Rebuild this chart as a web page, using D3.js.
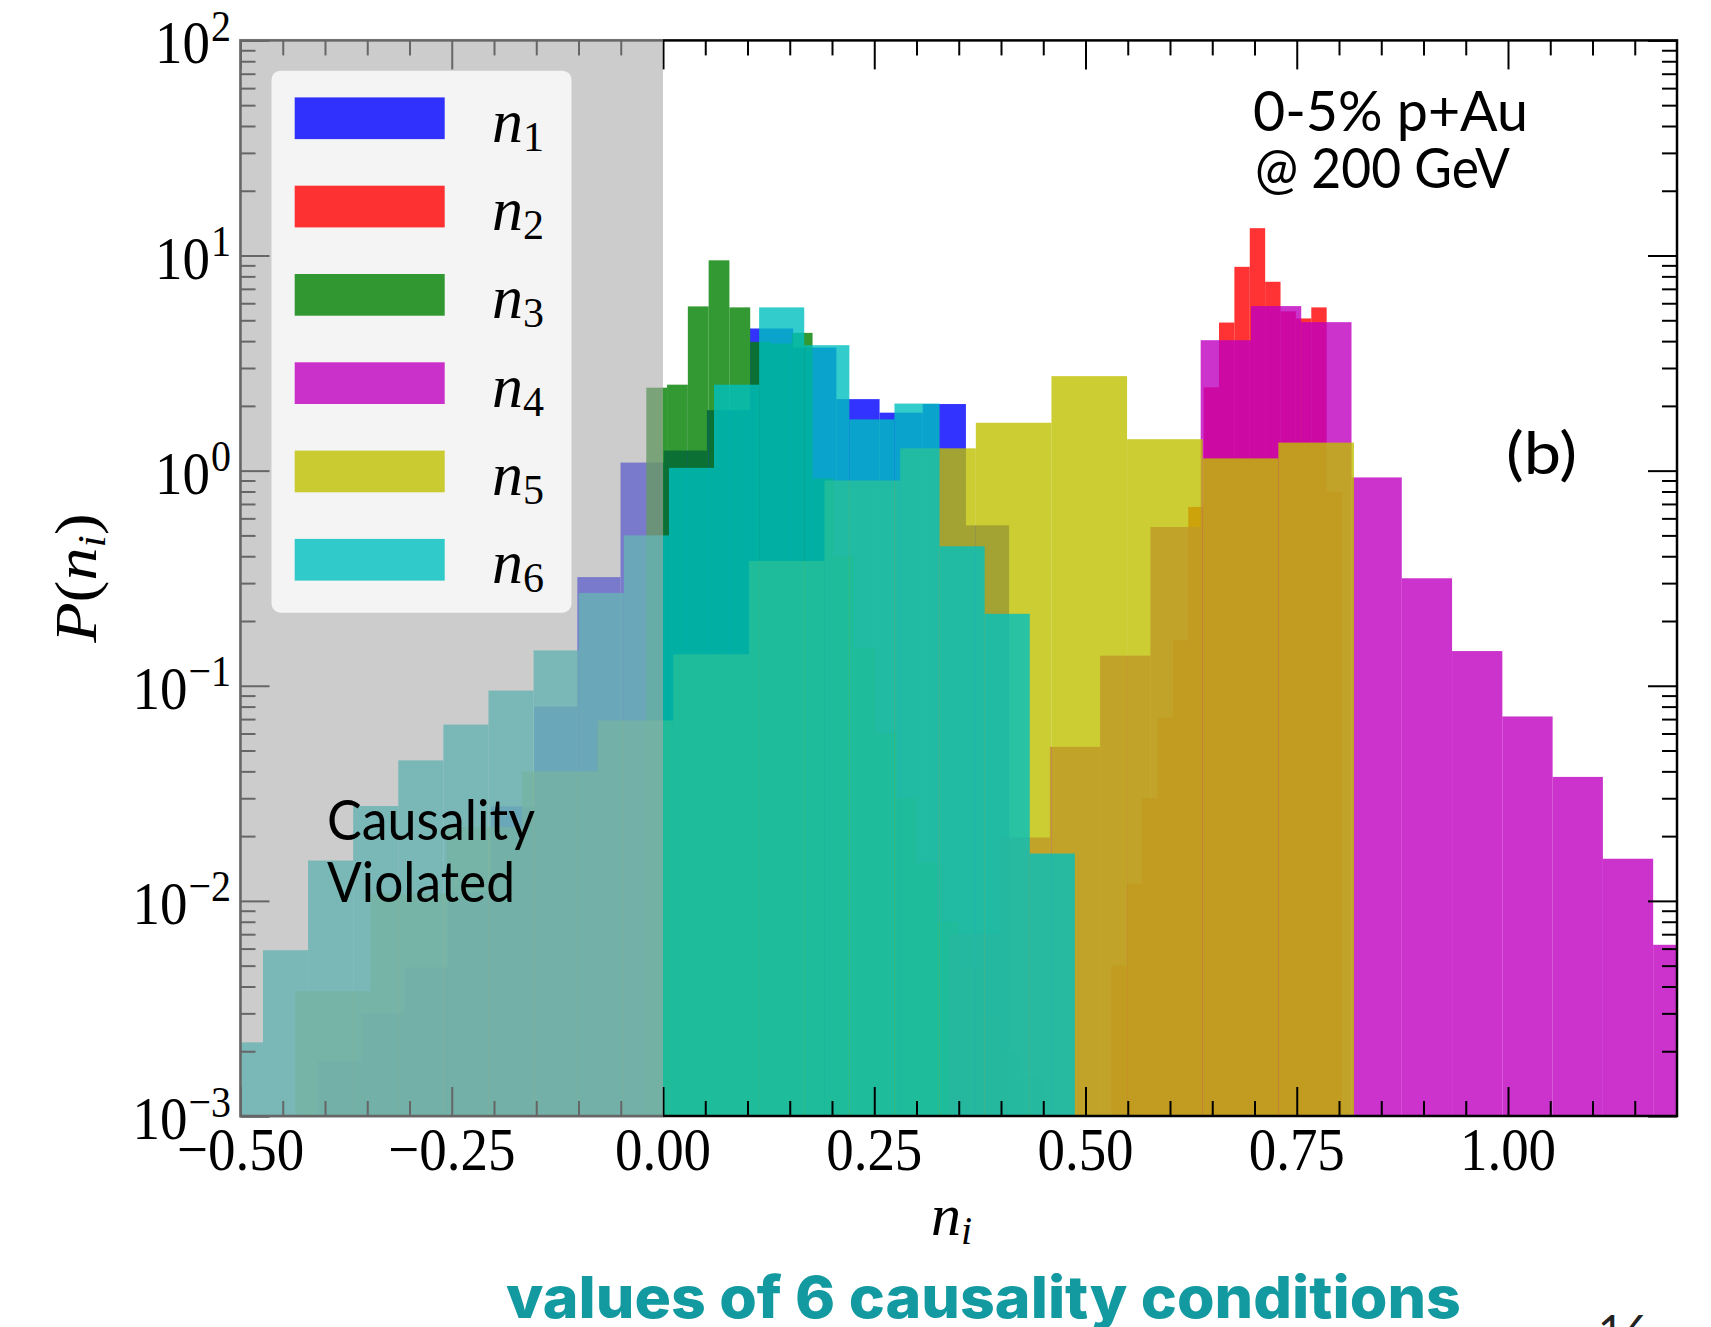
<!DOCTYPE html>
<html>
<head>
<meta charset="utf-8">
<script src="https://cdn.jsdelivr.net/npm/d3@7"></script>
<style>
  html, body { margin: 0; padding: 0; background: #ffffff; overflow: hidden; }
  svg { display: block; }
</style>
</head>
<body>
<svg id="chart" width="1711" height="1327"></svg>
<script>
// ---- histogram data: P(n_i) per bin, each series on its own uniform bins ----
const seriesNames  = ["1", "2", "3", "4", "5", "6"];
const seriesColors = ["#0000ff", "#ff0000", "#008000", "#bf00bf", "#bfbf00", "#00bfbf"];
const binStart = [-0.408, 0.5306, -0.0198, 0.3388, -0.4353, -0.5268];
const binWidth = [0.0511, 0.0182, 0.0246, 0.0595, 0.0895, 0.05338];

const n1Values = [0.0018, 0.0030, 0.0049, 0.011, 0.0275, 0.080, 0.32, 1.09, 1.24, 1.91,
                  4.58, 3.73, 2.15, 1.86, 2.04, 0.557];
const n2Values = [0.005, 0.012, 0.03, 0.071, 0.163, 0.678, 2.44, 4.88, 8.86, 13.4,
                  7.55, 5.5, 5.1, 5.74, 0.8];
const n3Values = [2.43, 2.51, 5.8, 9.5, 5.74, 3.97, 3.9, 4.37, 0.92, 0.4,
                  0.15, 0.06, 0.03, 0.015, 0.008, 0.005, 0.003, 0.002, 0.0015, 0.001];
const n4Values = [0.007, 0.0197, 0.052, 0.138, 0.547, 4.04, 5.82, 4.9, 0.93, 0.316,
                  0.145, 0.072, 0.0377, 0.0157, 0.00625];
const n5Values = [0.0038, 0.0108, 0.022, 0.040, 0.069, 0.14, 0.38, 0.90, 1.27, 1.67,
                  2.75, 1.40, 1.14, 1.35];
const n6Values = [0.0022, 0.0059, 0.0154, 0.0276, 0.045, 0.066, 0.095, 0.146, 0.27, 0.50,
                  1.03, 2.51, 5.74, 3.83, 1.73, 2.05, 0.445, 0.216, 0.0166];
const seriesValues = [n1Values, n2Values, n3Values, n4Values, n5Values, n6Values];

// ---- axis ticks ----
const xTickValues = [-0.5, -0.25, 0, 0.25, 0.5, 0.75, 1.0];
const xTickLabels = ["\u22120.50", "\u22120.25", "0.00", "0.25", "0.50", "0.75", "1.00"];
const yTickExponents = [2, 1, 0, -1, -2, -3];

// ---- layout ----
const L = 240.5, R = 1677, T = 40.4, B = 1116;
const svg = d3.select("#chart");

const x = d3.scaleLinear().domain([-0.5, 1.2]).range([L, R]);
const y = d3.scaleLog().domain([1e-3, 1e2]).range([B, T]);

svg.append("rect").attr("width", 1711).attr("height", 1327).attr("fill", "#ffffff");

const defs = svg.append("defs");
defs.append("clipPath").attr("id", "plotClip")
  .append("rect").attr("x", L).attr("y", T).attr("width", R - L).attr("height", B - T);

// ---- histograms, drawn in series order so later ones sit on top ----
const plot = svg.append("g").attr("clip-path", "url(#plotClip)");
seriesValues.forEach((vals, i) => {
  const bins = vals.map((v, j) => ({
    x0: binStart[i] + j * binWidth[i],
    x1: binStart[i] + (j + 1) * binWidth[i],
    v: v
  }));
  plot.append("g").attr("class", "hist-n" + seriesNames[i])
    .selectAll("rect").data(bins).join("rect")
    .attr("x", d => x(d.x0))
    .attr("width", d => x(d.x1) - x(d.x0))
    .attr("y", d => y(d.v))
    .attr("height", d => B - y(d.v))
    .attr("fill", seriesColors[i])
    .attr("fill-opacity", 0.8);
});

// ---- inward ticks on all four sides ----
const xMinor = d3.range(1, 34).map(k => -0.5 + k * 0.05)
  .filter(v => !xTickValues.some(m => Math.abs(m - v) < 1e-6));
const yMajor = yTickExponents.map(e => Math.pow(10, e));
const yMinor = [];
for (let e = -3; e < 2; e++) for (let m = 2; m <= 9; m++) yMinor.push(m * Math.pow(10, e));

function tickRow(gen, vals, size, tx, ty) {
  const g = svg.append("g").attr("transform", `translate(${tx},${ty})`)
    .call(gen.tickValues(vals).tickSize(size).tickFormat(""));
  g.select(".domain").remove();
  g.selectAll(".tick line").attr("stroke", "#000").attr("stroke-width", 2);
  return g;
}
tickRow(d3.axisBottom(x), xTickValues, -29, 0, B);
tickRow(d3.axisBottom(x), xMinor, -15, 0, B);
tickRow(d3.axisTop(x), xTickValues, -29, 0, T);
tickRow(d3.axisTop(x), xMinor, -15, 0, T);
tickRow(d3.axisLeft(y), yMajor, -29, L, 0);
tickRow(d3.axisLeft(y), yMinor, -15, L, 0);
tickRow(d3.axisRight(y), yMajor, -29, R, 0);
tickRow(d3.axisRight(y), yMinor, -15, R, 0);

// frame
svg.append("rect").attr("x", L).attr("y", T).attr("width", R - L).attr("height", B - T)
  .attr("fill", "none").attr("stroke", "#000").attr("stroke-width", 2.5);

// ---- shaded region n_i < 0 ----
svg.append("rect")
  .attr("x", L - 1.5).attr("y", T - 1.5)
  .attr("width", x(0) - L + 1.5).attr("height", B - T + 3)
  .attr("fill", "#aaaaaa").attr("fill-opacity", 0.6);

// ---- tick labels ----
const serif = "'Liberation Serif', 'DejaVu Serif', serif";
const gx = svg.append("g").attr("font-family", serif).attr("font-size", 55).attr("fill", "#000");
xTickValues.forEach((v, i) => {
  gx.append("text")
    .attr("transform", `translate(${x(v)},1170) scale(1,1.12)`)
    .attr("text-anchor", "middle")
    .text(xTickLabels[i]);
});

const gy = svg.append("g").attr("font-family", serif).attr("font-size", 55).attr("fill", "#000");
yTickExponents.forEach(e => {
  const t = gy.append("text")
    .attr("transform", `translate(231,${y(Math.pow(10, e)) + 23}) scale(1,1.12)`)
    .attr("text-anchor", "end");
  t.append("tspan").text("10");
  t.append("tspan").attr("font-size", 40).attr("dy", -20).attr("dx", 1)
    .text(e < 0 ? "\u2212" + (-e) : String(e));
});

// ---- axis titles ----
const xt = svg.append("text").attr("x", 931).attr("y", 1235)
  .attr("font-family", serif).attr("font-size", 60).attr("fill", "#000");
xt.append("tspan").attr("font-style", "italic").text("n");
xt.append("tspan").attr("font-style", "italic").attr("font-size", 40).attr("dy", 9).text("i");

const yt = svg.append("text").attr("transform", "translate(96,578) rotate(-90) scale(1.1,1)")
  .attr("text-anchor", "middle")
  .attr("font-family", serif).attr("font-size", 60).attr("fill", "#000");
yt.append("tspan").attr("font-style", "italic").text("P");
yt.append("tspan").text("(");
yt.append("tspan").attr("font-style", "italic").text("n");
yt.append("tspan").attr("font-style", "italic").attr("font-size", 40).attr("dy", 9).text("i");
yt.append("tspan").attr("dy", -9).text(")");

// ---- legend ----
const lg = svg.append("g");
lg.append("rect").attr("x", 271.5).attr("y", 70.7).attr("width", 300).attr("height", 542)
  .attr("rx", 9).attr("ry", 9).attr("fill", "#ffffff").attr("fill-opacity", 0.78);
seriesNames.forEach((nm, i) => {
  const cy = 118.2 + i * 88.3;
  lg.append("rect").attr("x", 294.7).attr("y", cy - 20.8).attr("width", 150).attr("height", 41.7)
    .attr("fill", seriesColors[i]).attr("fill-opacity", 0.8);
  const t = lg.append("text").attr("x", 492).attr("y", cy + 23.5)
    .attr("font-family", serif).attr("font-size", 62).attr("fill", "#000");
  t.append("tspan").attr("font-style", "italic").text("n");
  t.append("tspan").attr("font-size", 42).attr("dy", 9).text(nm);
});

// ---- annotations ----
const sans = "Lato, 'Open Sans', 'DejaVu Sans', sans-serif";
function note(txt, xx, yy, size, len) {
  svg.append("text").attr("x", xx).attr("y", yy)
    .attr("font-family", sans).attr("font-size", size).attr("fill", "#000")
    .attr("textLength", len).attr("lengthAdjust", "spacingAndGlyphs")
    .text(txt);
}
note("0-5% p+Au", 1253, 130.7, 56, 275);
note("@ 200 GeV", 1255, 188.3, 56, 255);
note("(b)", 1506, 474, 58, 71);
note("Causality", 327, 840, 57, 208);
note("Violated", 327, 901.7, 57, 188);

// ---- slide caption and page number ----
svg.append("text").attr("x", 506).attr("y", 1318)
  .attr("font-family", "Inter, Roboto, Lato, sans-serif").attr("font-weight", 800).attr("font-size", 58)
  .attr("fill", "#1399a0")
  .attr("textLength", 955).attr("lengthAdjust", "spacingAndGlyphs")
  .text("values of 6 causality conditions");
svg.append("text").attr("x", 1598).attr("y", 1347)
  .attr("font-family", sans).attr("font-size", 44).attr("fill", "#222")
  .text("16");
</script>
</body>
</html>
